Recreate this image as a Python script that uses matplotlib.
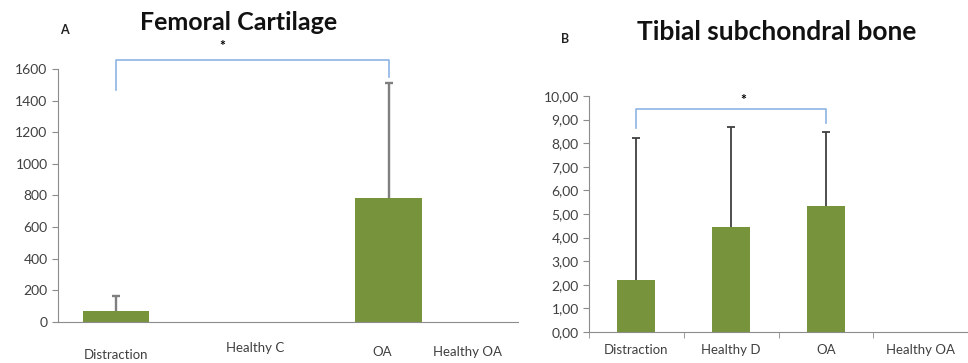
import numpy as np
import matplotlib.pyplot as plt

plt.rcParams['font.family'] = ['Lato', 'DejaVu Sans']

# femoral cartilage (panel A)
fem_groups = ['Distraction', 'OA']
fem_means = [70, 784]
fem_sd = [94, 727]
fem_labels = ['Distraction', 'Healthy C', 'OA', 'Healthy OA']

# tibial subchondral bone (panel B)
tib_groups = ['Distraction', 'Healthy D', 'OA', 'Healthy OA']
tib_means = [2.20, 4.46, 5.35, np.nan]
tib_sd = [6.03, 4.21, 3.14, np.nan]

green = '#77933c'
axis_gray = '#8c8c8c'
text_col = '#404040'
bracket_col = '#8eb4e3'


def upper_errorbar(ax, x, means, sd, color, lw):
    # one-sided error bar, cap only on top
    eb = ax.errorbar(x, means, yerr=[np.zeros(len(sd)), sd], fmt='none',
                     ecolor=color, elinewidth=lw, capsize=3, capthick=lw, zorder=3)
    eb[1][0].set_visible(False)
    return eb


fig = plt.figure(figsize=(9.68, 3.63), dpi=100)

# ---- panel A ----
ax1 = fig.add_axes([0.0599, 0.113, 0.475, 0.697])
xa = np.array([0, 2])
ax1.bar(xa, fem_means, width=0.49, color=green, zorder=2)
upper_errorbar(ax1, xa, fem_means, fem_sd, '#7f7f7f', 1.7)
ax1.set_xlim(-0.425, 2.945)
ax1.set_ylim(0, 1600)
ax1.set_yticks(np.arange(0, 1601, 200))
ax1.set_xticks([])
for s in ['top', 'right']:
    ax1.spines[s].set_visible(False)
ax1.spines['left'].set_color(axis_gray)
ax1.spines['bottom'].set_color(axis_gray)
ax1.tick_params(axis='y', colors=axis_gray, labelcolor=text_col, labelsize=10, length=4)

# category labels sit a little unevenly under the axis
lab_x = [0.0, 1.02, 1.95, 2.58]
lab_dy = [-33, -26, -30, -30]
for x, dy, t in zip(lab_x, lab_dy, fem_labels):
    ax1.annotate(t, xy=(x, 0), xycoords=('data', 'axes fraction'),
                 xytext=(0, dy * 0.72), textcoords='offset points',
                 ha='center', va='center', fontsize=9.5, color=text_col,
                 annotation_clip=False)

ax1.plot([0, 0, 2, 2], [1467, 1657, 1657, 1549], color=bracket_col, lw=1.2, clip_on=False)
ax1.text(0.78, 1745, '*', ha='center', va='center', fontsize=10, fontweight='bold', clip_on=False)

fig.text(239 / 968, 1 - 22 / 363, 'Femoral Cartilage', ha='center', va='center',
         fontsize=18, fontweight='bold', color='#111111')
fig.text(64 / 968, 1 - 30 / 363, 'A', ha='center', va='center',
         fontsize=9, fontweight='bold', color='#222222')

# ---- panel B ----
ax2 = fig.add_axes([0.6085, 0.0854, 0.3915, 0.65])
xb = np.arange(len(tib_groups))
ax2.bar(xb, tib_means, width=0.4, color=green, zorder=2)
upper_errorbar(ax2, xb, tib_means, tib_sd, '#404040', 1.3)
ax2.set_xlim(-0.5, 3.445)
ax2.set_ylim(0, 10)
ax2.set_yticks(np.arange(0, 11, 1))
ax2.set_yticklabels([('%.2f' % v).replace('.', ',') for v in np.arange(0, 11, 1)])
ax2.set_xticks(xb)
ax2.set_xticklabels(tib_groups)
ax2.set_xticks(np.arange(-0.5, 3.6, 1), minor=True)
for s in ['top', 'right']:
    ax2.spines[s].set_visible(False)
ax2.spines['left'].set_color(axis_gray)
ax2.spines['bottom'].set_color(axis_gray)
ax2.tick_params(axis='y', colors=axis_gray, labelcolor=text_col, labelsize=10, length=4)
ax2.tick_params(axis='x', which='major', length=0, labelcolor=text_col, labelsize=9.5, pad=9)
ax2.tick_params(axis='x', which='minor', length=4, color=axis_gray)

ax2.plot([0, 0, 2, 2], [8.64, 9.47, 9.47, 8.85], color=bracket_col, lw=1.2, clip_on=False)
ax2.text(1.13, 9.85, '*', ha='center', va='center', fontsize=10, fontweight='bold', clip_on=False)

fig.text(777 / 968, 1 - 32 / 363, 'Tibial subchondral bone', ha='center', va='center',
         fontsize=19, fontweight='bold', color='#111111')
fig.text(565 / 968, 1 - 39 / 363, 'B', ha='center', va='center',
         fontsize=9, fontweight='bold', color='#222222')

fig.savefig('out.png', dpi=100, facecolor='white')
